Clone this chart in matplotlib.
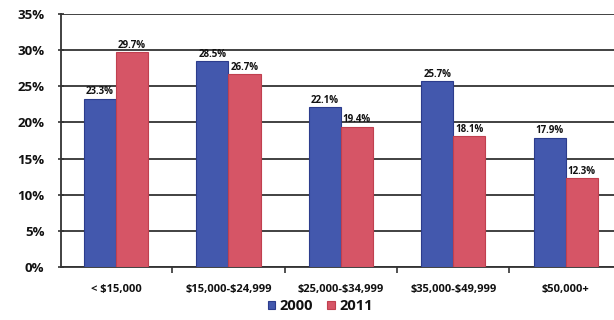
import matplotlib
matplotlib.use("Agg")
import matplotlib.pyplot as plt
import numpy as np
from matplotlib.ticker import FuncFormatter, MultipleLocator

categories = ["< $15,000", "$15,000-$24,999", "$25,000-$34,999",
              "$35,000-$49,999", "$50,000+"]
values_2000 = [23.3, 28.5, 22.1, 25.7, 17.9]
values_2011 = [29.7, 26.7, 19.4, 18.1, 12.3]
series_names = ["2000", "2011"]

plt.rcParams['font.family'] = ['Open Sans', 'DejaVu Sans']
plt.rcParams['font.weight'] = 'bold'
plt.rcParams['text.parse_math'] = False

blue = "#4358ad"
red = "#d65566"
blue_edge = "#2c3c8c"
red_edge = "#c0404f"
ink = "#111111"

fig = plt.figure(figsize=(6.14, 3.2), dpi=100)
ax = fig.add_axes([61 / 614, 1 - 267 / 320, (614 - 61) / 614, (267 - 14) / 320])

x = np.arange(len(categories))
w = 0.285
b1 = ax.bar(x - w / 2, values_2000, w, color=blue, edgecolor=blue_edge,
            linewidth=0.8, label=series_names[0], zorder=3)
b2 = ax.bar(x + w / 2, values_2011, w, color=red, edgecolor=red_edge,
            linewidth=0.8, label=series_names[1], zorder=3)

for bars, vals in ((b1, values_2000), (b2, values_2011)):
    for rect, v in zip(bars, vals):
        ax.text(rect.get_x() + rect.get_width() / 2, v + 0.2, f"{v:.1f}%",
                ha="center", va="bottom", fontsize=7, fontweight="bold",
                color=ink, zorder=4)

ax.set_xlim(-0.49, 4.43)
ax.set_ylim(0, 35)
ax.yaxis.set_major_locator(MultipleLocator(5))
ax.yaxis.set_major_formatter(FuncFormatter(lambda v, p: f"{v:.0f}%"))
ax.grid(axis="y", color="#333333", linewidth=1.3, zorder=0)

ax.set_xticks(x)
ax.set_xticklabels(categories, fontsize=8, fontweight="bold", color=ink)
ax.tick_params(axis="x", length=0, pad=12)
ax.set_xticks(x[:-1] + 0.5, minor=True)
ax.tick_params(axis="x", which="minor", length=4, width=1.2, color="#333333",
               direction="out")
ax.tick_params(axis="y", length=4, width=1.2, color="#333333",
               direction="inout", labelsize=9.5, pad=10, labelcolor=ink)
for lab in ax.get_yticklabels():
    lab.set_fontweight("bold")

for side in ("top", "right"):
    ax.spines[side].set_visible(False)
ax.spines["left"].set_color("#333333")
ax.spines["left"].set_linewidth(1.3)
ax.spines["bottom"].set_color("#333333")
ax.spines["bottom"].set_linewidth(1.3)

leg = fig.legend(handles=[b1, b2], labels=series_names, loc="center",
                 bbox_to_anchor=(320 / 614, 1 - 306 / 320), ncol=2,
                 frameon=False, prop={"size": 10.5, "weight": "bold"},
                 handlelength=0.5, handleheight=0.5, handletextpad=0.3,
                 columnspacing=1.0)
for t in leg.get_texts():
    t.set_color(ink)

fig.savefig("out.png", dpi=100, facecolor="white")
